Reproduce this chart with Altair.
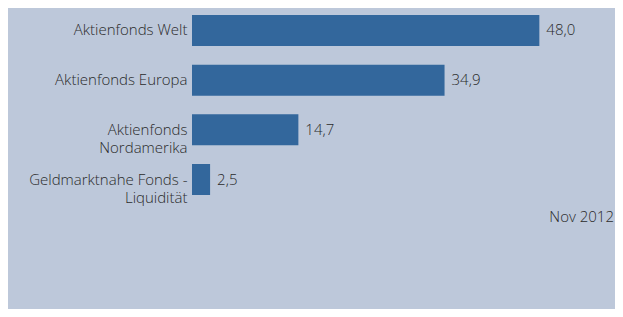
import altair as alt
import pandas as pd

categories = ["Aktienfonds Welt", "Aktienfonds Europa", "Aktienfonds|Nordamerika", "Geldmarktnahe Fonds -|Liquidität"]
values = [48.0, 34.9, 14.7, 2.5]
value_labels = ["48,0", "34,9", "14,7", "2,5"]
date_note = "Nov 2012"

df = pd.DataFrame({"cat": categories, "value": values, "label": value_labels})

FONT = "Open Sans"
TXT = "#2b2b2b"
BAR = "#33679c"
FS = 15

y_enc = alt.Y(
    "cat:N",
    sort=categories,
    scale=alt.Scale(paddingInner=0.376, paddingOuter=0.141),
    axis=alt.Axis(
        title=None, domain=False, ticks=False, grid=False,
        labelExpr="split(datum.label, '|')",
        labelPadding=5, labelFontSize=FS, labelColor=TXT, labelFont=FONT,
        labelFontWeight=300, labelLineHeight=18, labelLimit=300,
    ),
)
x_enc = alt.X("value:Q", scale=alt.Scale(domain=[0, 55]), axis=None)

bars = alt.Chart(df).mark_bar(color=BAR).encode(y=y_enc, x=x_enc)
texts = alt.Chart(df).mark_text(
    align="left", baseline="middle", dx=7, fontSize=FS, font=FONT, fontWeight=300, color=TXT
).encode(y=y_enc, x=x_enc, text="label:N")

note = alt.Chart(pd.DataFrame({"t": [date_note]})).mark_text(
    align="right", baseline="alphabetic", fontSize=FS, font=FONT, fontWeight=300, color=TXT
).encode(x=alt.value(422), y=alt.value(214), text="t:N")

chart = alt.layer(bars, texts, note).properties(
    width=398,
    height=194,
    padding={"left": 184, "top": 0, "right": 25, "bottom": 107},
    autosize="none",
    background="#bdc8da",
).configure_view(stroke=None)

chart.save("out.html", embed_options={"renderer": "svg", "actions": False})
